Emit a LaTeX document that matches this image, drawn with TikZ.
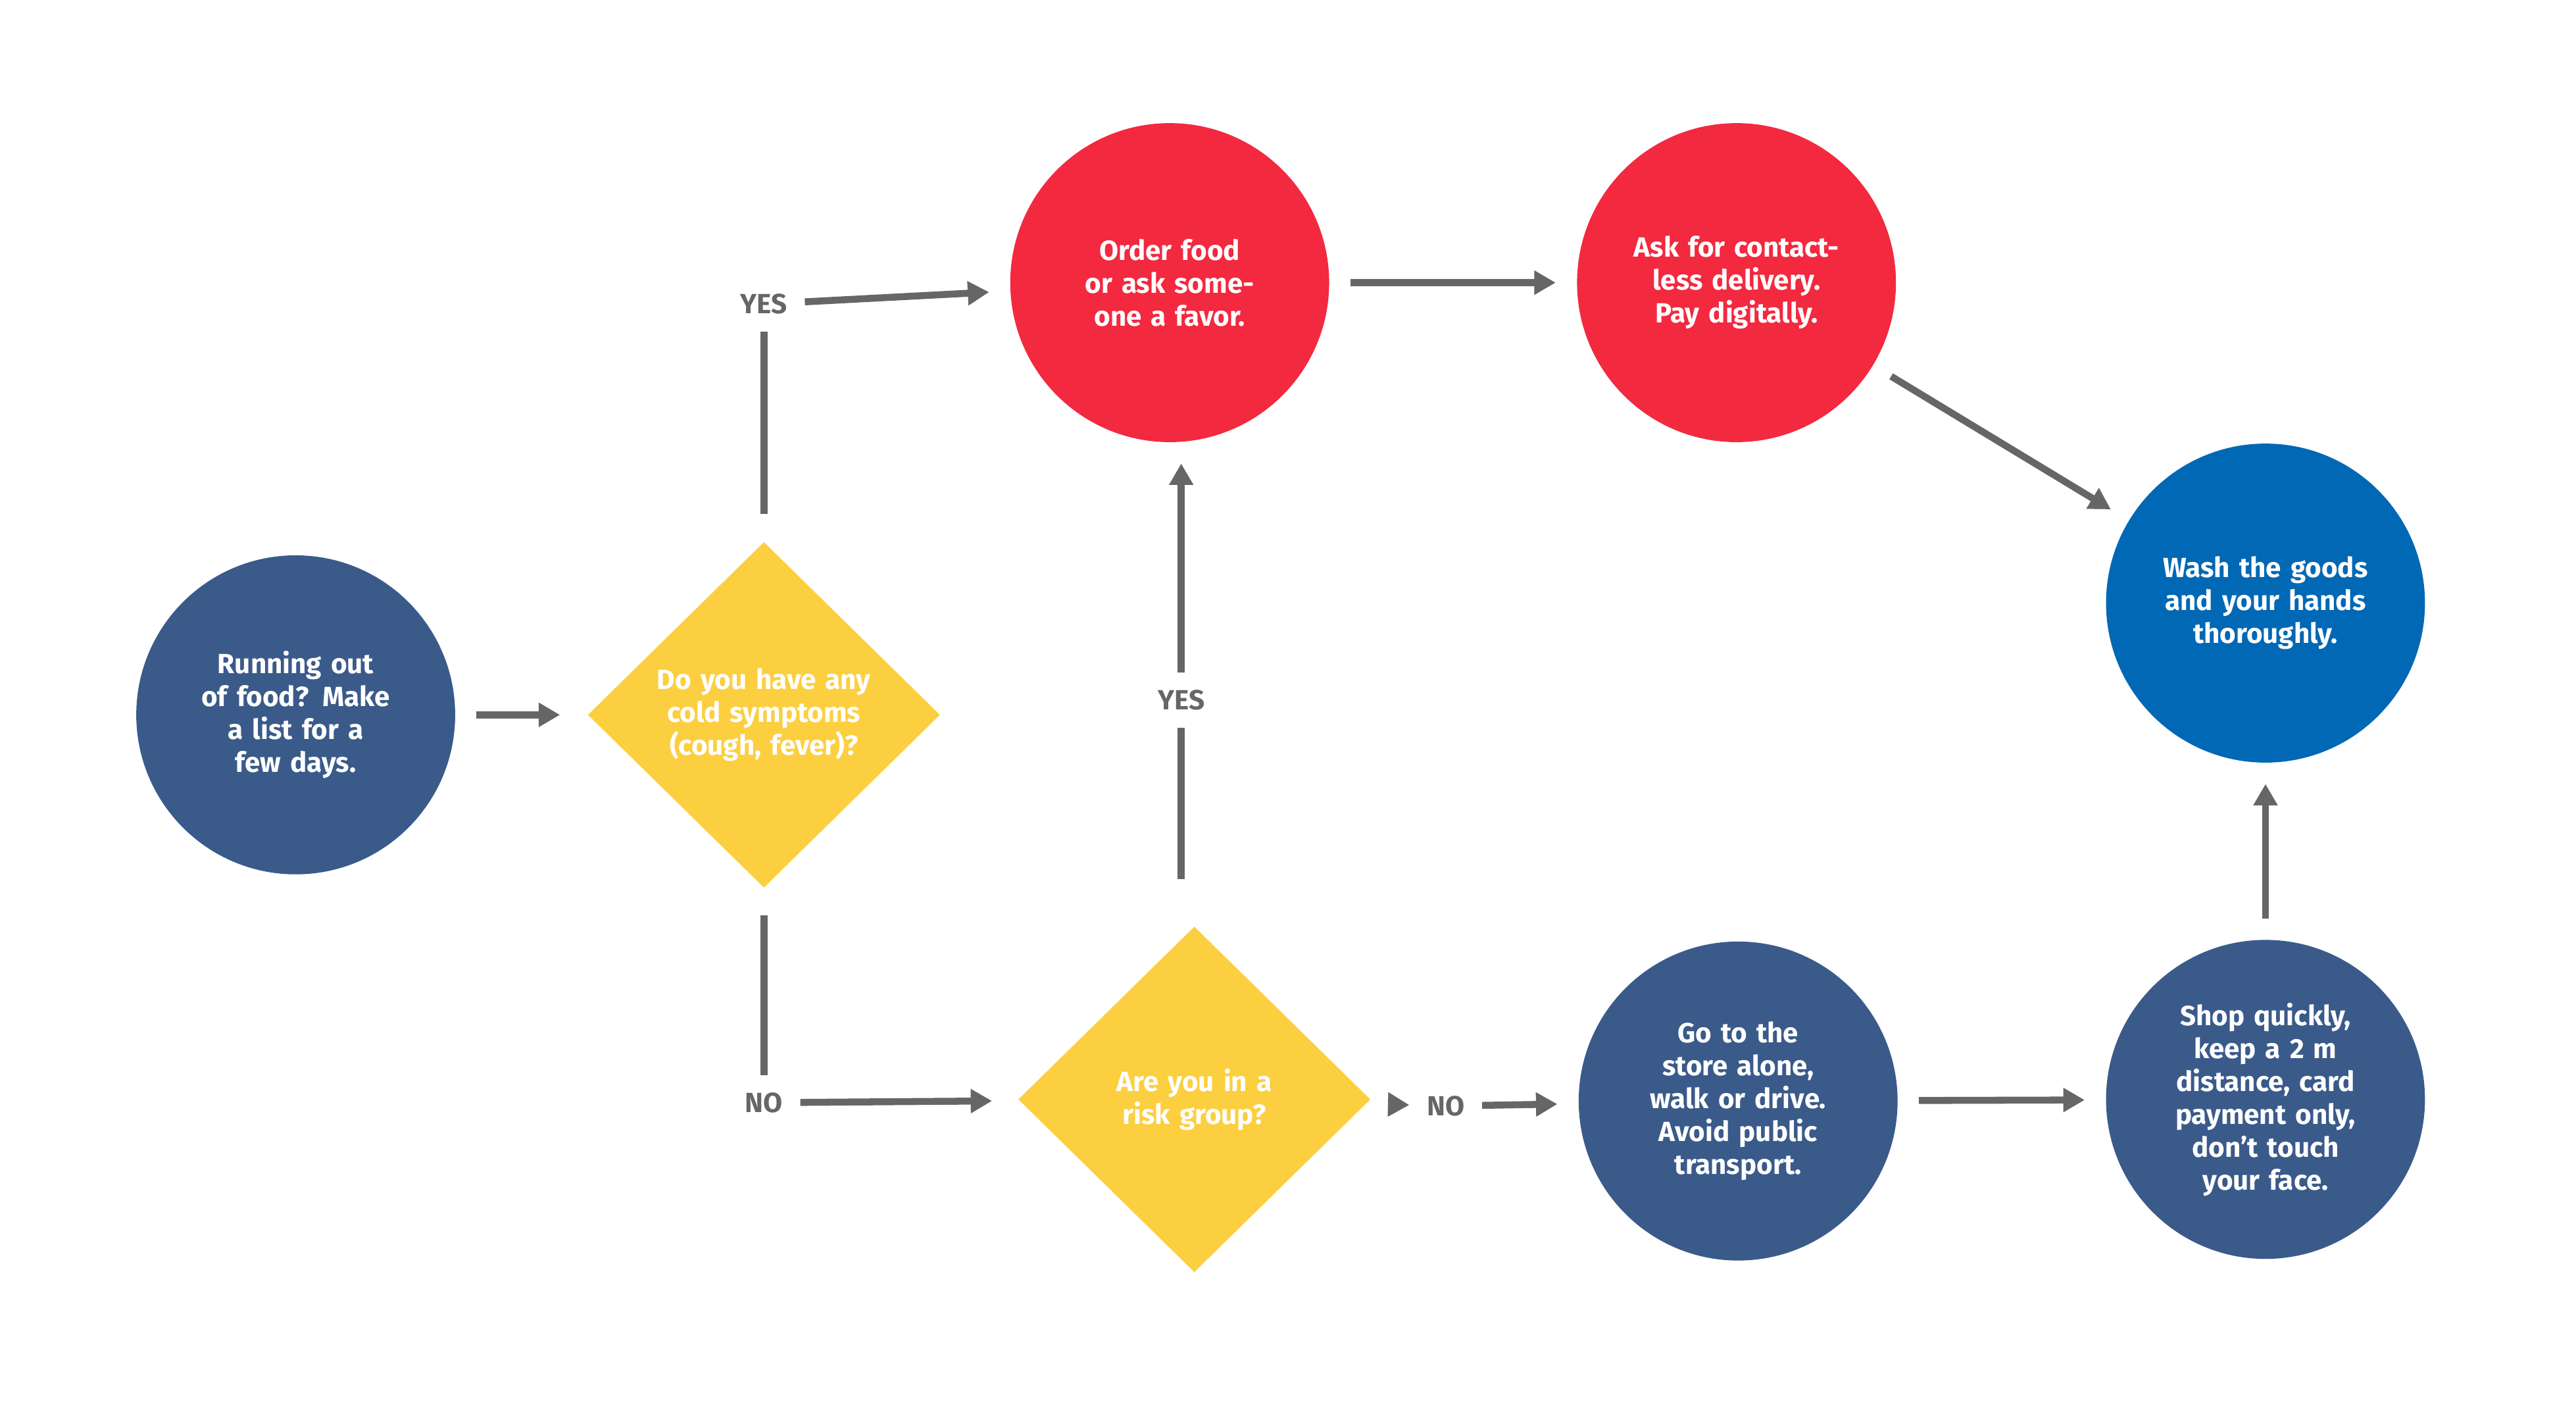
\documentclass[tikz,border=0pt]{standalone}
\usepackage{fontspec}
\setmainfont{Fira Sans}
\usetikzlibrary{shapes.geometric,arrows.meta,positioning}
\definecolor{navy}{HTML}{3A5A8A}
\definecolor{redc}{HTML}{F2293F}
\definecolor{bluec}{HTML}{0068B4}
\definecolor{yell}{HTML}{FCCF40}
\definecolor{arrc}{HTML}{666666}
\tikzset{
  step circle/.style={circle, minimum size=1.94cm, inner sep=0pt, outer sep=0.13cm,
    text=white, align=center, text width=1.3cm,
    font=\fontsize{4.8}{5.7}\selectfont\bfseries},
  question/.style={diamond, aspect=1.02, minimum width=2.24cm, minimum height=2.2cm,
    inner sep=0pt, outer sep=0.12cm, fill=yell, text=white, align=center, text width=1.3cm,
    font=\fontsize{4.8}{5.7}\selectfont\bfseries},
  answer/.style={text=arrc, inner sep=0.1cm, font=\fontsize{4.8}{5.7}\selectfont\bfseries},
  arr/.style={arrc, line width=1.2pt, -{Triangle[length=0.13cm,width=0.14cm]}},
  link/.style={arrc, line width=1.2pt}
}
\begin{document}
\begin{tikzpicture}[x=0.01cm, y=-0.01cm]
\useasboundingbox (0,0) rectangle (1568,865);
% shapes
\node[step circle, fill=navy] (start) at (180,435) {Running out of food? Make a list for a few days.};
\node[question] (symptoms) at (465,435) {Do you have any cold symptoms (cough, fever)?};
\node[step circle, fill=redc] (order) at (712,172) {Order food or ask someone a favor.};
\node[step circle, fill=redc] (contactless) at (1057,172) {Ask for contactless delivery. Pay digitally.};
\node[step circle, fill=bluec] (wash) at (1379,367) {Wash the goods and your hands thoroughly.};
\node[question] (risk) at (727,669) {Are you in a risk group?};
\node[step circle, fill=navy] (store) at (1058,670) {Go to the store alone, walk or drive. Avoid public transport.};
\node[step circle, fill=navy] (shop) at (1379,669) {Shop quickly, keep a 2 m distance, card payment only, don't touch your face.};

% answers
\node[answer] (yes1) at (465,185) {YES};
\node[answer] (no1) at (465,671) {NO};
\node[answer] (yes2) at (719,426) {YES};
\node[answer] (no2) at (880,673) {NO};

% connectors
\draw[arr] (start) -- (symptoms);
\draw[link] (symptoms) -- (yes1);
\draw[arr] (yes1) -- (order);
\draw[link] (symptoms) -- (no1);
\draw[arr] (no1) -- (risk);
\draw[link] (risk.north -| yes2) ++(0,-12) -- (yes2);
\draw[arr] (yes2) -- (order.south -| yes2);
\draw[arr] (order) -- (contactless);
\draw[arr] (contactless) -- (wash);
\draw[arr] (risk) -- (no2) ;
\draw[arr] (no2) -- (store);
\draw[arr] (store) -- (shop);
\draw[arr] (shop) -- (wash);
\end{tikzpicture}
\end{document}
